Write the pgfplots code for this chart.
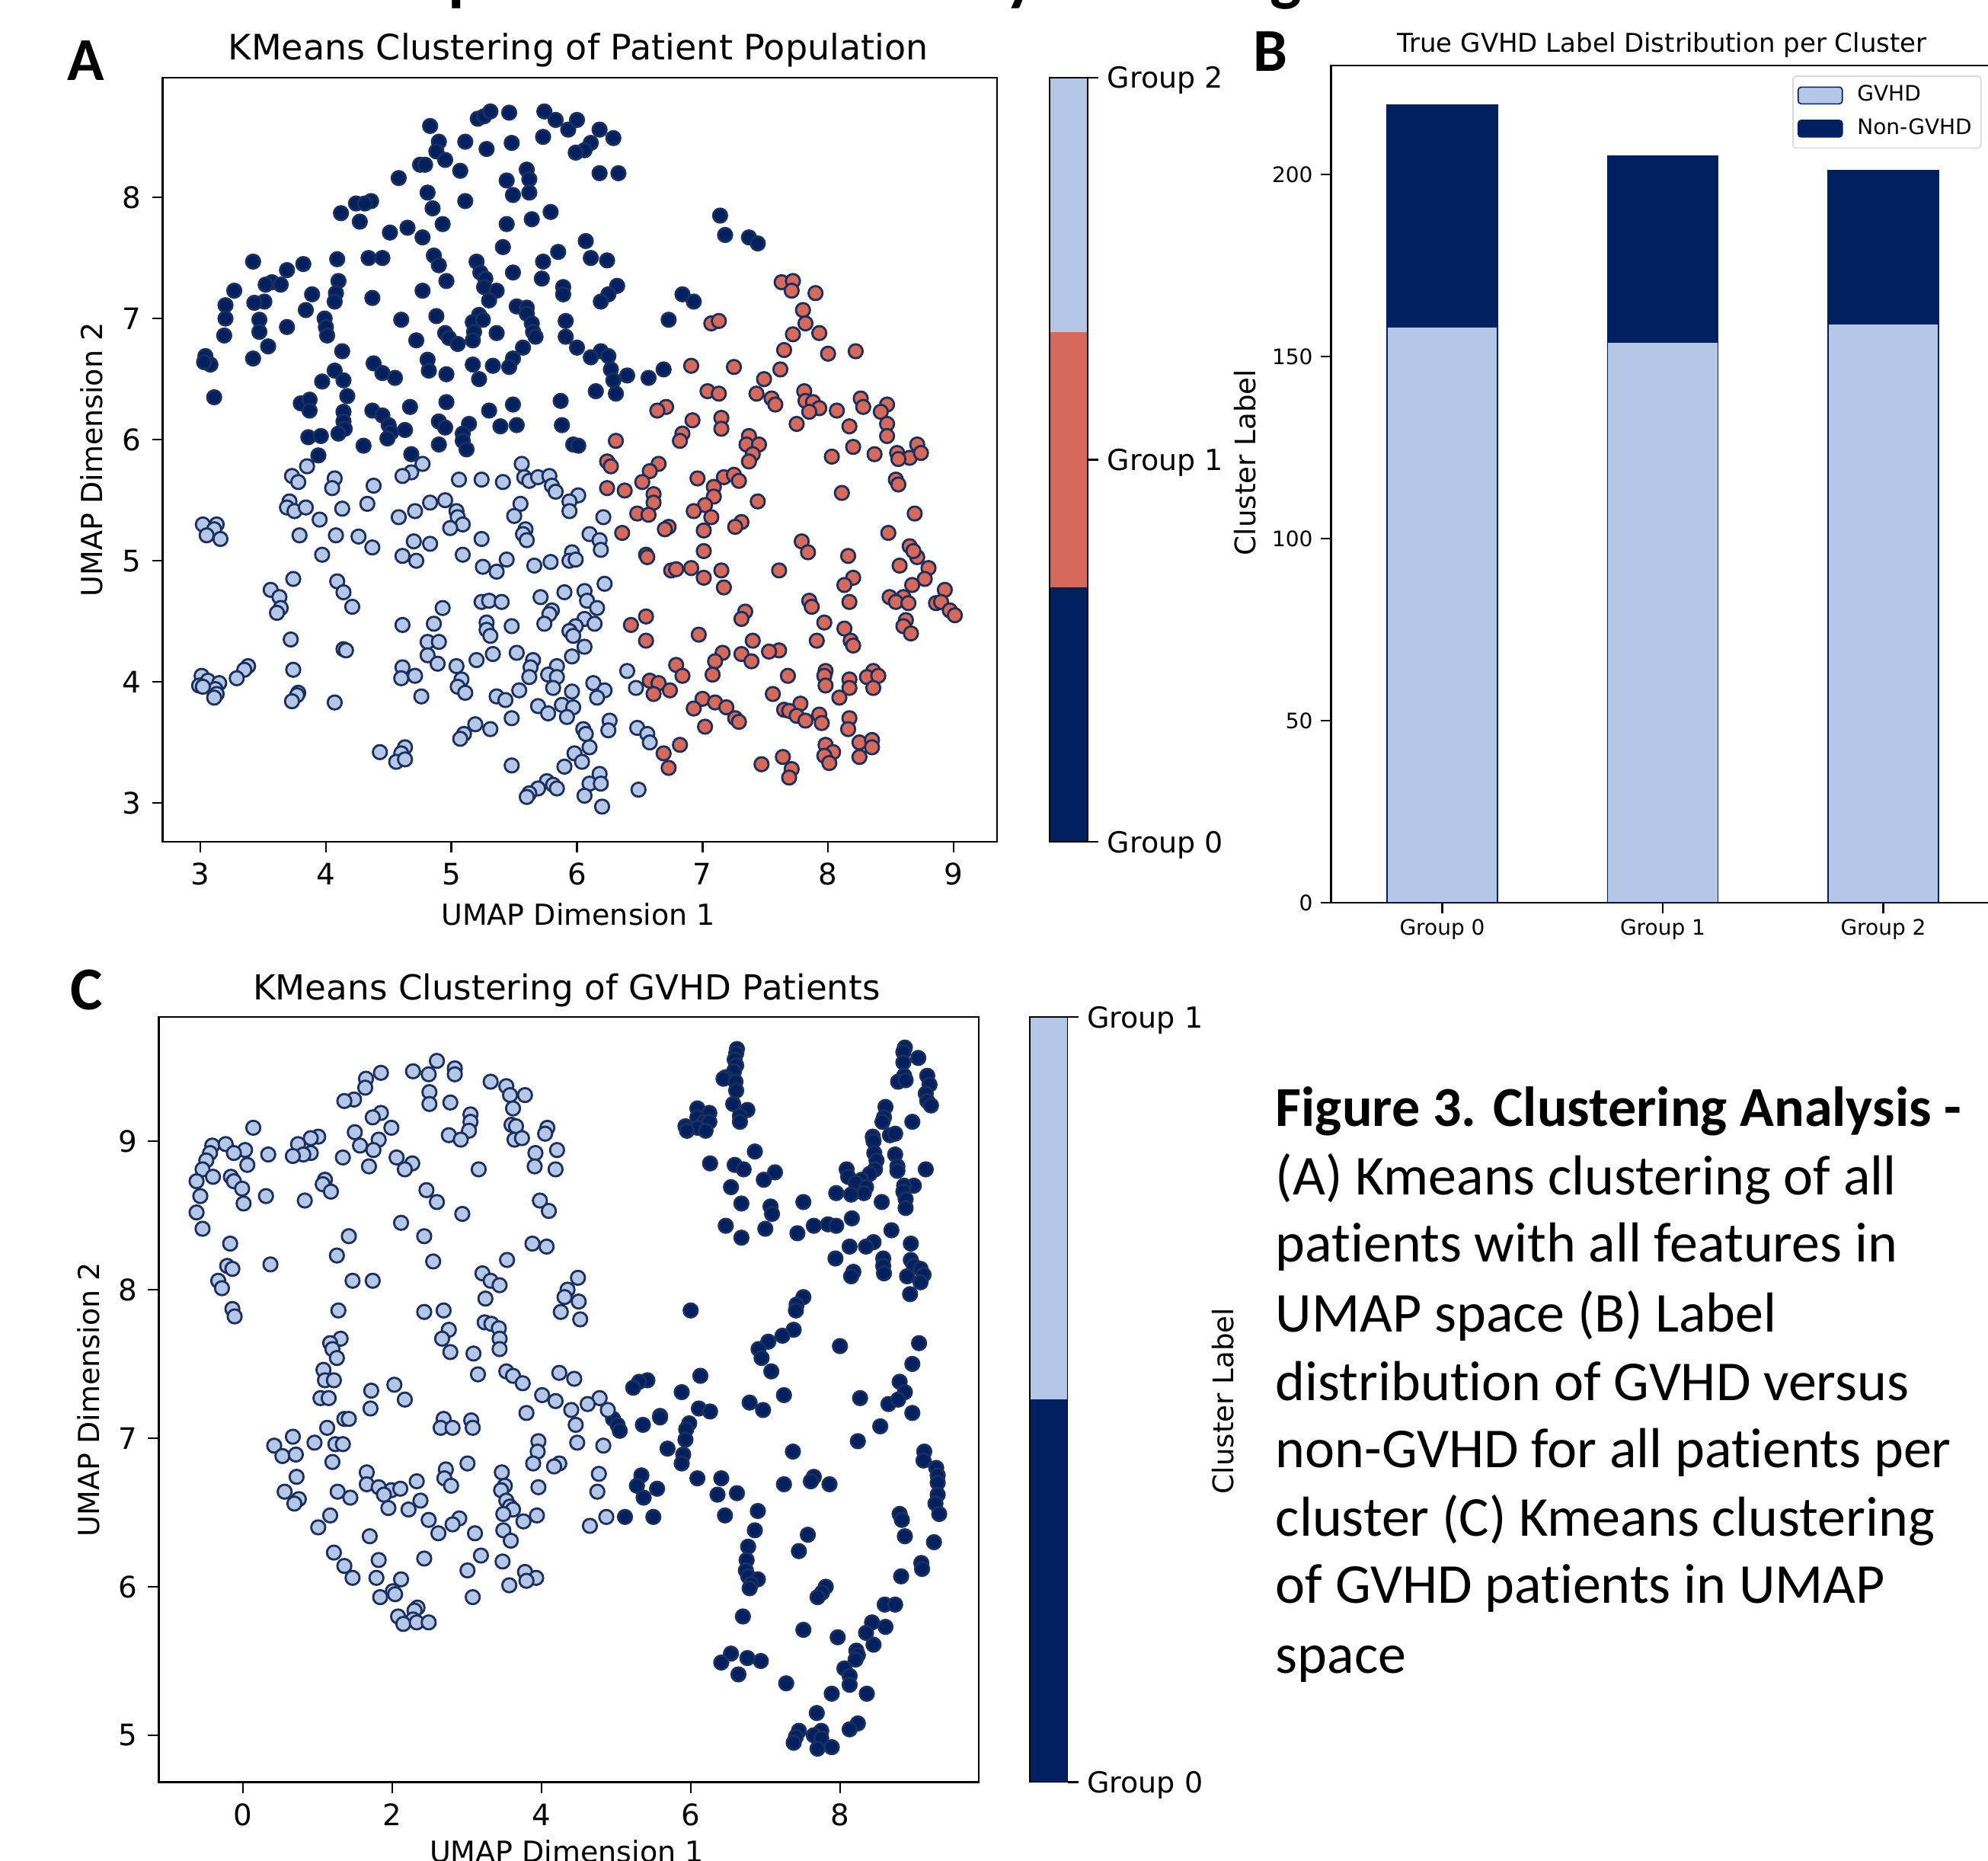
\documentclass[border=0pt]{standalone}
\usepackage{pgfplots}
\pgfplotsset{compat=1.18}
\usepackage{fontspec}
\setmainfont{DejaVu Sans}
\newfontfamily\capfont[Ligatures=NoCommon]{Carlito}
\usepackage{pgfplotstable}
\definecolor{navy}{HTML}{002060}
\definecolor{lblue}{HTML}{B4C7E7}
\definecolor{redc}{HTML}{D6695A}
\definecolor{edgec}{HTML}{1B2F5E}
\pgfplotstableread{
x y
4.83 8.59
5.21 8.65
5.26 8.67
5.31 8.71
5.46 8.70
5.74 8.71
5.83 8.64
5.93 8.56
6.00 8.64
6.18 8.56
6.29 8.49
5.73 8.50
6.11 8.45
6.06 8.39
5.99 8.37
5.11 8.46
5.28 8.40
5.48 8.45
4.90 8.46
4.88 8.38
4.95 8.31
4.75 8.27
4.79 8.27
5.07 8.22
4.58 8.16
6.18 8.20
6.33 8.20
5.60 8.23
5.62 8.15
5.44 8.14
5.62 8.04
5.49 8.02
4.81 8.04
5.11 7.97
4.85 7.91
4.24 7.95
4.36 7.97
4.31 7.95
4.12 7.87
4.27 7.80
5.79 7.88
5.64 7.82
5.44 7.78
4.93 7.78
4.65 7.75
4.51 7.71
4.77 7.67
6.07 7.64
5.41 7.59
5.85 7.55
6.11 7.50
6.24 7.48
4.86 7.52
4.90 7.44
5.73 7.47
5.20 7.47
4.34 7.50
4.45 7.50
4.09 7.49
3.42 7.47
3.82 7.45
3.69 7.40
5.23 7.38
5.49 7.38
5.27 7.33
4.96 7.31
5.72 7.33
4.10 7.31
3.57 7.30
3.64 7.28
3.52 7.28
6.32 7.27
3.27 7.23
5.89 7.26
5.26 7.26
4.77 7.23
5.36 7.23
3.89 7.20
4.08 7.21
6.25 7.20
5.89 7.20
4.37 7.17
5.30 7.15
4.07 7.14
6.19 7.14
3.51 7.14
3.43 7.13
3.20 7.11
5.52 7.10
5.60 7.09
3.84 7.07
3.20 7.00
4.88 7.02
5.60 7.04
5.22 7.03
5.17 6.97
5.25 6.99
4.60 6.99
3.47 6.99
3.99 7.00
5.91 6.98
3.69 6.93
4.00 6.93
5.64 6.96
5.65 6.89
3.47 6.89
3.19 6.86
4.01 6.86
4.95 6.88
5.36 6.88
5.18 6.89
5.17 6.82
4.98 6.84
5.67 6.85
5.91 6.85
4.72 6.82
5.05 6.79
3.54 6.77
5.57 6.76
6.00 6.76
4.13 6.73
3.04 6.69
3.08 6.62
3.03 6.64
3.42 6.67
6.19 6.73
6.25 6.69
6.11 6.68
4.38 6.63
5.49 6.67
4.81 6.66
5.17 6.62
5.33 6.61
5.46 6.60
4.82 6.57
4.45 6.55
4.96 6.54
4.07 6.57
4.55 6.51
6.27 6.58
5.22 6.50
6.69 6.58
6.40 6.53
6.57 6.51
6.29 6.49
3.97 6.48
4.14 6.49
6.15 6.40
6.31 6.38
4.17 6.36
3.11 6.35
3.80 6.30
3.87 6.33
4.96 6.31
5.87 6.32
5.49 6.29
4.67 6.27
3.87 6.24
5.30 6.24
4.37 6.24
4.14 6.23
4.45 6.20
5.14 6.13
4.90 6.15
4.14 6.15
4.50 6.12
5.88 6.12
5.52 6.12
5.39 6.11
4.95 6.10
4.15 6.09
4.63 6.08
4.52 6.06
4.10 6.05
5.09 6.05
3.86 6.02
3.96 6.03
4.49 6.01
5.09 5.99
5.97 5.96
4.90 5.96
6.01 5.95
4.30 5.95
5.12 5.92
4.68 5.88
3.94 5.87
7.14 7.85
7.18 7.69
7.37 7.67
7.44 7.62
6.84 7.20
6.93 7.14
6.73 6.99
}\tableAnavy
\pgfplotstableread{
x y
7.63 7.30
7.72 7.31
7.71 7.23
7.90 7.21
7.80 7.07
7.82 6.96
7.07 6.96
7.13 6.98
7.93 6.88
7.72 6.87
7.65 6.74
8.00 6.71
8.22 6.73
6.91 6.61
7.25 6.60
7.62 6.58
7.49 6.50
7.04 6.40
7.13 6.38
7.43 6.38
7.55 6.34
7.58 6.29
7.81 6.40
7.82 6.32
7.88 6.31
7.93 6.26
7.85 6.23
8.07 6.24
8.26 6.34
8.28 6.27
8.47 6.29
8.42 6.23
6.71 6.27
6.64 6.24
6.92 6.16
7.15 6.18
7.15 6.09
7.75 6.13
8.47 6.13
8.17 6.11
6.84 6.05
6.82 5.99
7.37 6.03
8.47 6.03
7.35 5.96
6.31 5.99
7.45 5.96
7.40 5.88
8.20 5.94
8.71 5.96
8.03 5.86
8.37 5.88
8.55 5.89
8.65 5.85
8.56 5.84
8.74 5.89
6.24 5.82
6.27 5.78
6.65 5.80
7.37 5.82
6.58 5.74
6.52 5.65
6.96 5.68
7.17 5.69
7.25 5.71
7.29 5.66
7.09 5.61
6.24 5.60
6.38 5.58
6.61 5.55
7.09 5.53
8.11 5.56
8.54 5.67
8.56 5.63
7.44 5.49
7.02 5.46
6.61 5.48
6.93 5.41
6.48 5.39
6.57 5.38
7.07 5.36
8.69 5.39
7.31 5.32
7.26 5.28
6.73 5.28
6.70 5.26
6.36 5.23
7.01 5.25
8.48 5.23
7.79 5.16
8.65 5.12
7.84 5.07
7.01 5.08
6.55 5.05
6.56 5.03
8.16 5.04
8.71 5.03
8.68 5.08
8.57 4.96
8.80 4.94
6.75 4.92
6.79 4.93
6.91 4.94
7.15 4.92
7.61 4.92
7.01 4.86
8.20 4.86
8.77 4.85
8.13 4.80
8.67 4.80
7.17 4.78
8.93 4.76
8.49 4.70
8.60 4.70
7.85 4.67
8.17 4.66
8.54 4.66
8.64 4.65
8.86 4.65
8.90 4.66
7.87 4.62
8.97 4.59
7.34 4.58
9.01 4.55
7.31 4.52
6.55 4.54
8.62 4.51
6.43 4.47
7.97 4.49
8.60 4.46
8.13 4.44
8.66 4.40
6.97 4.39
6.55 4.34
7.40 4.34
7.91 4.34
8.18 4.34
8.20 4.30
7.61 4.26
7.53 4.25
7.16 4.24
7.31 4.23
7.39 4.17
7.10 4.17
6.79 4.14
7.98 4.09
8.36 4.09
7.08 4.06
6.84 4.05
7.68 4.05
7.97 4.05
8.31 4.04
8.40 4.05
8.17 4.02
6.58 4.01
6.65 3.99
7.98 3.97
8.17 3.95
8.36 3.95
6.74 3.93
6.61 3.90
7.56 3.90
8.09 3.87
7.00 3.86
7.10 3.83
6.93 3.78
7.65 3.77
7.78 3.82
7.69 3.76
7.19 3.79
7.75 3.72
7.93 3.73
7.82 3.68
7.26 3.70
7.29 3.67
8.17 3.70
7.95 3.66
7.02 3.63
8.16 3.61
8.25 3.50
8.35 3.52
6.82 3.48
7.98 3.48
8.35 3.46
6.69 3.41
8.04 3.42
7.97 3.39
8.25 3.38
7.64 3.38
8.01 3.33
7.47 3.32
6.73 3.29
7.71 3.28
7.69 3.21
}\tableAred
\pgfplotstableread{
x y
5.56 5.80
4.77 5.80
3.85 5.78
3.73 5.70
3.78 5.65
4.07 5.68
4.05 5.60
4.38 5.62
4.68 5.73
4.61 5.70
5.06 5.67
5.24 5.67
5.41 5.65
5.58 5.69
5.62 5.66
5.69 5.69
5.78 5.70
5.80 5.62
5.83 5.57
6.01 5.54
5.94 5.49
4.33 5.47
4.95 5.50
4.83 5.48
5.55 5.47
3.71 5.49
3.69 5.44
3.75 5.41
3.84 5.44
4.13 5.43
3.95 5.34
4.71 5.41
4.58 5.36
5.04 5.41
5.05 5.36
5.50 5.37
5.94 5.41
6.21 5.36
5.09 5.30
4.99 5.27
3.02 5.30
3.13 5.30
3.11 5.26
3.05 5.21
3.16 5.18
3.79 5.21
4.08 5.21
4.26 5.20
5.59 5.26
5.57 5.22
5.60 5.17
5.24 5.18
6.10 5.22
6.18 5.17
6.19 5.09
4.37 5.11
4.70 5.16
4.83 5.14
3.97 5.05
4.61 5.04
4.72 5.00
5.09 5.05
5.96 5.07
5.94 5.00
5.99 5.01
5.44 5.01
5.79 4.99
5.66 4.96
5.25 4.95
5.36 4.91
3.74 4.85
4.09 4.83
4.14 4.74
6.22 4.81
3.56 4.76
5.90 4.74
6.06 4.75
3.63 4.70
5.71 4.70
6.08 4.67
5.24 4.66
5.30 4.67
5.40 4.66
4.21 4.62
3.64 4.61
3.61 4.57
4.93 4.61
6.16 4.61
5.80 4.59
5.78 4.56
6.06 4.52
4.86 4.48
4.61 4.47
5.28 4.49
5.48 4.46
5.74 4.48
5.99 4.46
6.14 4.48
5.28 4.43
5.94 4.42
5.31 4.38
5.97 4.38
3.72 4.35
4.81 4.33
4.90 4.33
6.06 4.29
4.14 4.27
4.16 4.26
4.81 4.22
5.33 4.23
5.52 4.24
5.96 4.21
5.20 4.18
4.89 4.15
5.65 4.18
5.63 4.12
5.04 4.13
5.84 4.13
3.38 4.13
3.35 4.10
3.74 4.10
4.61 4.12
6.40 4.09
3.01 4.05
3.29 4.03
3.06 4.01
4.71 4.05
4.60 4.03
5.77 4.06
5.84 4.04
5.62 4.04
5.08 4.02
3.15 3.99
2.99 3.97
6.13 3.99
5.81 3.95
5.05 3.96
6.47 3.95
3.12 3.94
3.02 3.96
5.11 3.91
5.54 3.93
5.96 3.92
6.22 3.93
3.78 3.91
3.13 3.90
3.11 3.87
4.76 3.88
5.36 3.88
5.43 3.85
6.16 3.87
3.77 3.89
3.73 3.84
4.07 3.83
5.69 3.80
5.88 3.81
5.97 3.79
5.77 3.74
5.92 3.71
5.48 3.70
6.26 3.68
6.48 3.62
5.19 3.65
5.31 3.61
6.05 3.61
6.25 3.60
6.07 3.57
5.10 3.57
5.07 3.53
6.56 3.57
6.58 3.50
6.10 3.46
4.63 3.46
4.43 3.42
4.60 3.41
5.98 3.41
4.56 3.34
4.63 3.36
6.04 3.34
5.48 3.31
5.90 3.30
6.18 3.24
5.76 3.18
6.10 3.16
6.19 3.16
5.81 3.15
5.84 3.12
5.69 3.12
6.49 3.11
5.62 3.08
5.60 3.05
6.06 3.06
6.20 2.97
}\tableAlight
\pgfplotstableread{
x y
2.60 9.54
2.28 9.47
2.49 9.45
2.84 9.49
2.84 9.45
1.85 9.46
1.65 9.42
1.64 9.36
3.32 9.40
3.53 9.37
3.58 9.31
3.78 9.31
2.50 9.33
2.50 9.25
2.78 9.26
1.49 9.28
1.36 9.27
3.62 9.22
1.85 9.19
1.74 9.16
3.05 9.18
3.05 9.13
3.60 9.11
0.14 9.09
1.99 9.09
3.03 9.07
3.66 9.10
4.08 9.09
4.05 9.05
1.50 9.06
1.01 9.03
0.91 9.02
2.76 9.04
2.92 9.01
3.64 9.01
3.74 9.02
1.82 9.01
1.57 8.97
1.75 8.94
0.74 8.98
-0.41 8.97
-0.23 8.98
0.03 8.94
-0.12 8.92
-0.44 8.92
3.92 8.92
4.21 8.94
0.34 8.91
0.91 8.92
0.81 8.91
0.67 8.90
1.34 8.89
2.06 8.89
2.27 8.85
2.17 8.81
1.69 8.83
3.16 8.81
3.91 8.83
4.19 8.81
0.06 8.84
-0.49 8.87
-0.54 8.81
-0.40 8.76
-0.16 8.76
-0.12 8.73
1.10 8.74
1.07 8.71
-0.62 8.73
-0.01 8.68
1.18 8.66
-0.57 8.63
0.31 8.63
2.46 8.67
0.83 8.60
0.01 8.58
2.60 8.59
3.98 8.60
4.10 8.53
-0.62 8.52
2.94 8.51
2.12 8.45
-0.54 8.41
2.43 8.36
1.42 8.36
-0.17 8.31
3.88 8.31
4.07 8.29
1.26 8.23
3.54 8.20
2.55 8.19
0.37 8.17
-0.21 8.16
-0.14 8.14
3.21 8.11
4.49 8.08
-0.33 8.06
1.47 8.06
1.74 8.06
3.32 8.06
3.44 8.03
-0.28 8.01
4.35 8.00
4.31 7.95
3.25 7.94
4.50 7.92
-0.14 7.87
1.28 7.86
2.69 7.86
2.43 7.85
4.26 7.85
-0.11 7.82
4.52 7.80
3.24 7.78
3.33 7.77
2.76 7.73
3.43 7.74
3.44 7.67
2.67 7.67
1.31 7.67
1.17 7.64
1.20 7.60
3.44 7.60
2.78 7.58
3.09 7.57
1.26 7.54
1.08 7.46
3.53 7.45
3.15 7.43
4.24 7.44
3.62 7.42
4.44 7.40
1.10 7.39
3.75 7.37
1.22 7.39
2.03 7.36
1.72 7.32
4.01 7.29
4.78 7.27
1.04 7.27
1.15 7.27
4.19 7.25
2.17 7.26
4.62 7.23
4.40 7.19
4.89 7.19
1.71 7.20
3.80 7.17
1.36 7.13
1.42 7.13
2.69 7.13
3.06 7.12
1.13 7.07
2.65 7.07
2.81 7.07
3.08 7.07
4.46 7.09
0.67 7.01
0.96 6.97
1.24 6.96
1.34 6.96
4.48 6.97
4.83 6.95
3.96 6.98
0.42 6.95
3.95 6.91
0.53 6.88
0.71 6.89
1.20 6.84
3.01 6.83
3.89 6.83
4.24 6.83
4.17 6.81
2.72 6.79
3.47 6.77
1.66 6.77
4.77 6.76
0.72 6.74
2.70 6.73
1.66 6.69
2.33 6.71
3.51 6.68
2.79 6.68
1.82 6.67
3.96 6.67
1.99 6.65
2.11 6.66
0.56 6.64
3.46 6.65
4.75 6.64
1.27 6.64
1.89 6.62
1.44 6.60
0.75 6.59
0.69 6.56
3.53 6.58
2.38 6.58
3.58 6.54
1.95 6.53
2.22 6.52
3.62 6.52
3.49 6.49
1.17 6.48
3.94 6.48
4.87 6.47
2.90 6.46
2.49 6.45
3.76 6.44
2.81 6.42
4.65 6.41
1.01 6.40
3.49 6.38
3.11 6.36
2.62 6.36
1.70 6.34
3.59 6.31
1.22 6.23
3.19 6.21
2.43 6.19
1.82 6.18
3.48 6.17
1.36 6.14
3.01 6.11
3.78 6.10
1.47 6.06
1.79 6.06
2.12 6.05
3.93 6.06
3.80 6.04
3.57 6.01
2.01 5.97
2.04 5.95
1.84 5.93
3.08 5.93
2.34 5.86
2.30 5.84
2.08 5.80
2.28 5.78
2.15 5.75
2.33 5.76
2.49 5.76
}\tableClight
\pgfplotstableread{
x y
6.62 9.62
6.61 9.59
6.59 9.55
6.61 9.51
8.87 9.63
8.85 9.60
9.05 9.56
8.85 9.53
6.58 9.47
6.47 9.43
6.44 9.42
6.60 9.40
6.61 9.34
8.86 9.44
8.78 9.40
9.17 9.44
9.20 9.38
8.88 9.41
9.15 9.32
9.17 9.27
9.22 9.24
6.57 9.25
6.09 9.22
6.76 9.21
6.66 9.17
6.25 9.19
8.61 9.23
8.59 9.16
8.97 9.13
8.57 9.13
6.09 9.16
6.18 9.13
5.93 9.10
6.09 9.09
6.25 9.13
6.66 9.13
6.20 9.07
5.95 9.07
8.67 9.04
8.74 9.05
8.44 9.03
8.45 9.00
6.86 8.93
8.46 8.92
8.74 8.91
6.26 8.85
6.59 8.84
8.49 8.87
6.71 8.81
8.77 8.83
8.47 8.81
9.15 8.81
8.09 8.81
7.13 8.79
8.40 8.78
8.77 8.80
6.98 8.74
8.11 8.76
8.29 8.74
8.21 8.72
8.99 8.70
6.54 8.69
8.35 8.69
8.86 8.70
7.95 8.65
8.32 8.65
8.15 8.64
8.85 8.66
7.51 8.59
8.56 8.59
8.88 8.61
6.68 8.58
8.88 8.55
7.07 8.56
7.09 8.51
8.16 8.48
6.47 8.43
7.00 8.41
7.65 8.43
7.84 8.44
7.95 8.43
8.69 8.40
7.43 8.38
6.68 8.35
8.95 8.31
8.45 8.32
8.35 8.29
8.13 8.29
7.94 8.21
8.58 8.21
8.95 8.20
8.99 8.16
9.08 8.14
8.58 8.16
8.18 8.12
8.59 8.11
8.15 8.09
8.90 8.09
9.12 8.10
9.08 8.05
8.94 7.97
7.51 7.95
7.42 7.90
7.41 7.86
6.00 7.86
7.38 7.73
7.23 7.69
7.04 7.65
9.06 7.64
8.00 7.62
6.91 7.60
6.95 7.54
8.97 7.50
7.08 7.45
6.13 7.42
5.42 7.39
5.31 7.38
5.23 7.34
8.80 7.38
5.88 7.31
7.25 7.29
8.27 7.27
8.87 7.31
6.79 7.24
8.65 7.23
8.78 7.26
6.11 7.20
6.26 7.18
6.97 7.19
8.97 7.17
5.59 7.15
4.96 7.13
5.02 7.09
5.05 7.05
5.36 7.09
5.59 7.14
5.98 7.10
5.94 7.06
5.93 6.99
5.69 6.93
5.90 6.89
5.88 6.83
8.54 7.08
8.24 6.98
9.13 6.91
9.12 6.85
7.37 6.91
9.29 6.80
9.31 6.75
9.31 6.70
5.34 6.75
5.28 6.68
6.09 6.73
6.41 6.73
7.65 6.74
7.61 6.71
7.86 6.69
7.25 6.69
5.55 6.66
6.36 6.62
6.62 6.63
5.37 6.60
9.31 6.62
9.28 6.56
6.90 6.51
9.33 6.49
6.46 6.48
8.80 6.49
8.83 6.45
5.12 6.47
5.50 6.47
6.86 6.38
7.57 6.35
8.87 6.34
9.26 6.30
6.77 6.27
7.45 6.24
6.75 6.18
9.09 6.16
9.10 6.12
6.74 6.11
8.82 6.07
6.77 6.07
6.90 6.05
6.81 6.02
7.81 6.00
6.79 5.99
7.76 5.96
7.70 5.93
8.60 5.88
8.74 5.88
6.70 5.80
8.43 5.76
8.61 5.73
7.51 5.71
8.35 5.69
7.97 5.66
8.45 5.61
8.22 5.57
8.24 5.54
6.54 5.55
6.76 5.52
6.94 5.50
6.41 5.49
8.21 5.51
6.64 5.41
8.06 5.45
8.13 5.40
8.13 5.34
7.28 5.35
7.89 5.28
8.36 5.28
7.69 5.15
8.24 5.08
8.13 5.04
7.45 5.03
7.75 5.03
7.41 4.99
7.65 5.00
7.75 4.98
7.38 4.95
7.70 4.91
7.89 4.92
}\tableCnavy
\pgfplotsset{
  every tick/.style={black,line width=0.6pt},
  tick style={black,line width=0.6pt},
  major tick length=3.5pt,
  tick align=outside,
  tickpos=left,
  axis line style={line width=0.6pt,black},
  /pgf/number format/assume math mode=true,
  scat/.style={scale only axis,
    tick label style={font=\fontsize{9.7}{11}\selectfont},
    label style={font=\fontsize{9.5}{11}\selectfont},
    title style={font=\fontsize{11.5}{13}\selectfont,anchor=center,yshift=-6.7pt},
    xlabel style={anchor=center},
    ylabel style={anchor=center},
    clip=false},
  dots/.style={only marks,mark=*,mark size=2.3pt,mark options={draw=edgec,line width=0.7pt,fill=#1}},
  cbar/.style={scale only axis,xmin=0,xmax=1,xtick=\empty,ytick pos=right,yticklabel pos=right,
    tick label style={font=\fontsize{9.5}{11}\selectfont},
    yticklabel style={yshift=-1pt,xshift=-0.6pt},
    enlargelimits=false,clip=true,axis on top=true,
    axis line style={line width=0.4pt,black}},
}
\begin{document}
\begin{tikzpicture}[x=1pt,y=1pt]
\useasboundingbox (0,0) rectangle (652.5,610.5);
% cropped words of the slide title above the page
\node[anchor=base,inner sep=0,font=\capfont\bfseries\fontsize{22}{24}\selectfont] at (153,611) {p};
\node[anchor=base,inner sep=0,font=\capfont\bfseries\fontsize{22}{24}\selectfont] at (335,611) {y};
\node[anchor=base,inner sep=0,font=\capfont\bfseries\fontsize{22}{24}\selectfont] at (422,611) {g};
% Panel A
\begin{axis}[scat,at={(53.4pt,334.25pt)},anchor=south west,width=273.85pt,height=250.8pt,
  xmin=2.70,xmax=9.346,ymin=2.68,ymax=8.99,xtick={3,...,9},ytick={3,...,8},
  title={KMeans Clustering of Patient Population},
  title style={at={(axis description cs:0.498,1.0387)}},
  xlabel={UMAP Dimension 1},ylabel={UMAP Dimension 2},
  xlabel style={at={(axis description cs:0.498,-0.095)}},
  ylabel style={at={(axis description cs:-0.0855,0.5)}}]
\addplot[dots=navy] table {\tableAnavy};
\addplot[dots=lblue] table {\tableAlight};
\addplot[dots=redc] table {\tableAred};
\end{axis}
% Colourbar A
\begin{axis}[cbar,at={(344.5pt,334.25pt)},anchor=south west,width=12.5pt,height=250.8pt,
  ymin=0,ymax=2,ytick={0,1,2},yticklabels={Group 0,Group 1,Group 2}]
\addplot[fill=navy,draw=none] coordinates {(0,0)(1,0)(1,0.6667)(0,0.6667)} --cycle;
\addplot[fill=redc,draw=none] coordinates {(0,0.6667)(1,0.6667)(1,1.3333)(0,1.3333)} --cycle;
\addplot[fill=lblue,draw=none] coordinates {(0,1.3333)(1,1.3333)(1,2)(0,2)} --cycle;
\end{axis}
\node[rotate=90,font=\fontsize{9.3}{11}\selectfont] at (408.75,458.75) {Cluster Label};
% Panel B
\begin{axis}[scale only axis,at={(436.9pt,314.25pt)},anchor=south west,width=217.4pt,height=274.75pt,
  xmin=-0.504,xmax=2.5,ymin=0,ymax=229.9,
  ybar stacked,bar width=0.5,
  xtick={0,1,2},xticklabels={Group 0,Group 1,Group 2},ytick={0,50,100,150,200},
  tick label style={font=\fontsize{7}{9}\selectfont},
  xticklabel style={yshift=1.6pt},
  yticklabel style={xshift=1pt},
  title={True GVHD Label Distribution per Cluster},
  title style={font=\fontsize{8.5}{10}\selectfont,anchor=center,yshift=-6.7pt,at={(axis description cs:0.4996,1.0267)}},
  legend style={at={(rel axis cs:0.982,0.988)},anchor=north east,font=\fontsize{7}{9}\selectfont,
    draw=black!15,rounded corners=1pt,line width=0.4pt,inner sep=1.5pt,row sep=1.2pt,
    nodes={inner sep=1.5pt}},
  legend cell align=left,
  legend image code/.code={\draw[#1] (0pt,-2.75pt) rectangle (14.5pt,2.75pt);\path (0pt,0pt) (17.7pt,0pt);},
  axis on top=false]
\addplot[fill=lblue,draw=navy,line width=0.4pt] coordinates {(0,158)(1,154)(2,159)};
\addplot[fill=navy,draw=navy,line width=0.4pt] coordinates {(0,61)(1,51)(2,42)};
\legend{GVHD,Non-GVHD}
\end{axis}
% Panel C
\begin{axis}[scat,at={(52.1pt,25.6pt)},anchor=south west,width=269.15pt,height=251.15pt,
  xmin=-1.127,xmax=9.86,ymin=4.684,ymax=9.836,xtick={0,2,4,6,8},ytick={5,6,7,8,9},
  title={KMeans Clustering of GVHD Patients},
  title style={font=\fontsize{11.3}{13}\selectfont,at={(axis description cs:0.4975,1.038)}},
  xlabel={UMAP Dimension 1},ylabel={UMAP Dimension 2},
  xlabel style={at={(axis description cs:0.4975,-0.09)}},
  ylabel style={at={(axis description cs:-0.0854,0.5)}}]
\addplot[dots=navy] table {\tableCnavy};
\addplot[dots=lblue] table {\tableClight};
\end{axis}
% Colourbar C
\begin{axis}[cbar,at={(338pt,25.6pt)},anchor=south west,width=12.4pt,height=251.15pt,
  ymin=0,ymax=1,ytick={0,1},yticklabels={Group 0,Group 1}]
\addplot[fill=navy,draw=none] coordinates {(0,0)(1,0)(1,0.5)(0,0.5)} --cycle;
\addplot[fill=lblue,draw=none] coordinates {(0,0.5)(1,0.5)(1,1)(0,1)} --cycle;
\end{axis}
\node[rotate=90,font=\fontsize{9.3}{11}\selectfont] at (401.5,150.75) {Cluster Label};
% Panel letters
\node[font=\capfont\bfseries\fontsize{20}{22}\selectfont] at (28.2,590.5) {A};
\node[font=\capfont\bfseries\fontsize{20}{22}\selectfont] at (417,593.5) {B};
\node[font=\capfont\bfseries\fontsize{20}{22}\selectfont] at (28.4,285.5) {C};
% Caption
\begin{scope}[every node/.style={anchor=base west,inner sep=0,font=\capfont\fontsize{18.5}{20}\selectfont}]
\node[font=\capfont\bfseries\fontsize{18.5}{20}\selectfont] at (418.5,240.8) {Figure 3. Clustering Analysis -};
\node at (418.5,218.3) {(A) Kmeans clustering of all};
\node at (418.5,196.3) {patients with all features in};
\node at (418.5,173.4) {UMAP space (B) Label};
\node at (418.5,150.9) {distribution of GVHD versus};
\node at (418.5,128.9) {non-GVHD for all patients per};
\node at (418.5,106.4) {cluster (C) Kmeans clustering};
\node at (418.5,84.3) {of GVHD patients in UMAP};
\node at (418.5,61.4) {space};
\end{scope}
\end{tikzpicture}
\end{document}
